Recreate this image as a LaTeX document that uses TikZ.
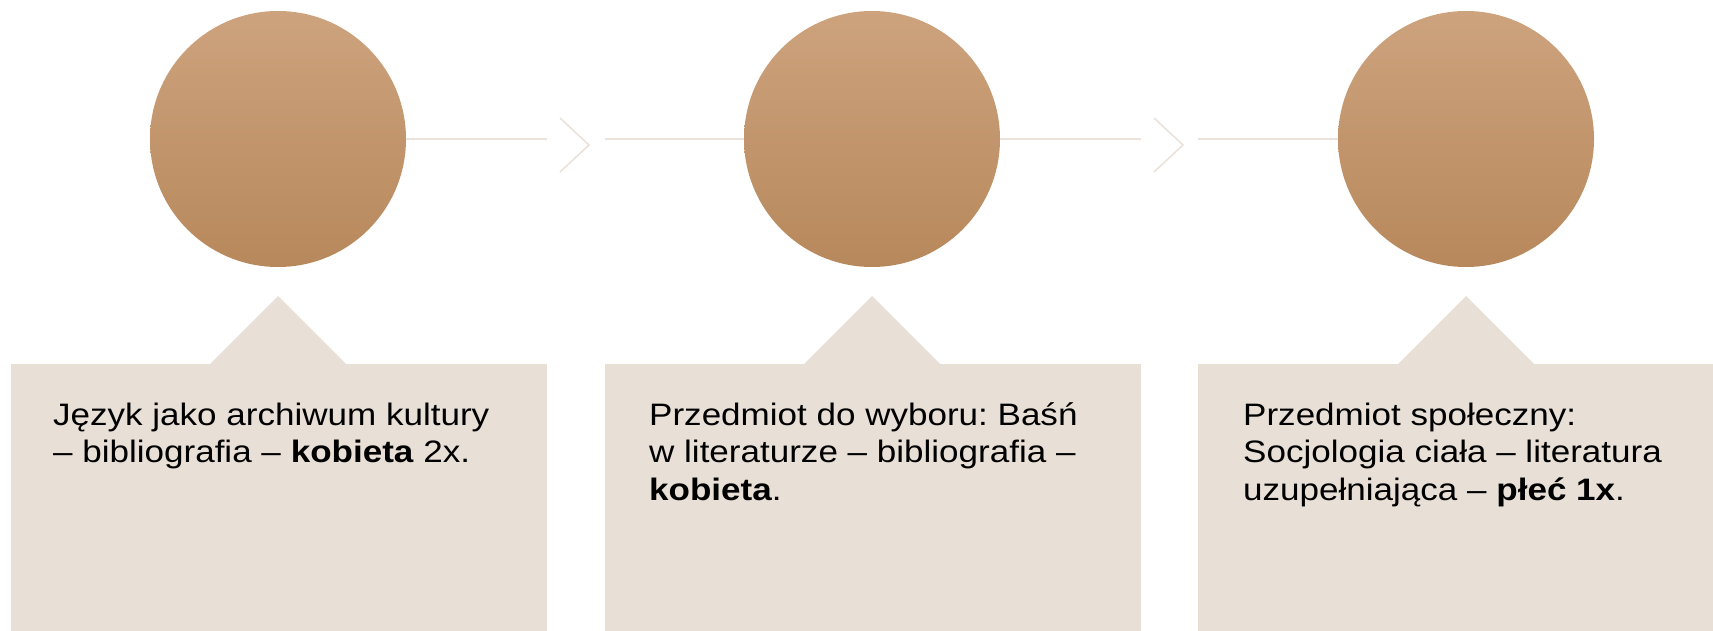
\documentclass[tikz,border=0pt]{standalone}
\usepackage{fontspec}
\setmainfont[FakeStretch=1.13]{Liberation Sans}
\frenchspacing
\begin{document}
\begin{tikzpicture}[x=1pt,y=-1pt,
  disc/.style={circle,draw=none,minimum size=256pt,inner sep=0pt,
    top color=discTop,bottom color=discBot},
  panel/.style={fill=boxfill,draw=none},
  link/.style={draw=linkcol,line width=1.6pt},
  chev/.style={draw=linkcol,line width=1.6pt},
  label/.style={anchor=base west,inner sep=0pt,
    font=\fontsize{31}{37.7}\selectfont,text=black}]
\definecolor{discTop}{RGB}{205,163,126}
\definecolor{discBot}{RGB}{183,136,91}
\definecolor{boxfill}{RGB}{232,223,214}
\definecolor{linkcol}{RGB}{234,226,219}
\useasboundingbox (0,0) rectangle (1713,631);

% panels with pointer triangles
\fill[panel] (11,364) rectangle (547,631);
\fill[panel] (210,364) -- (278,296) -- (346,364) -- cycle;
\fill[panel] (605,364) rectangle (1141,631);
\fill[panel] (804,364) -- (872,296) -- (940,364) -- cycle;
\fill[panel] (1198,364) rectangle (1713,631);
\fill[panel] (1398,364) -- (1466,296) -- (1534,364) -- cycle;

% discs
\node[disc] (c1) at (278,139) {};
\node[disc] (c2) at (872,139) {};
\node[disc] (c3) at (1466,139) {};

% connectors with chevrons
\coordinate (a1) at (547,139);
\coordinate (b1) at (605,139);
\coordinate (a2) at (1141,139);
\coordinate (b2) at (1198,139);
\draw[link] (c1.east) -- (a1);
\draw[link] (b1) -- (c2.west);
\draw[link] (c2.east) -- (a2);
\draw[link] (b2) -- (c3.west);
\draw[chev] (560,118) -- (589,145) -- (560,172);
\draw[chev] (1154,118) -- (1183,145) -- (1154,172);

% texts
\node[label] (t1) at (53,425) {\vtop{\hbox{Język jako archiwum kultury}\hbox{– bibliografia – \textbf{kobieta} 2x.}}};
\node[label] (t2) at (649,425) {\vtop{\hbox{Przedmiot do wyboru: Baśń}\hbox{w literaturze – bibliografia –}\hbox{\textbf{kobieta}.}}};
\node[label] (t3) at (1243,425) {\vtop{\hbox{Przedmiot społeczny:}\hbox{Socjologia ciała – literatura}\hbox{uzupełniająca – \textbf{płeć 1x}.}}};
\end{tikzpicture}
\end{document}
